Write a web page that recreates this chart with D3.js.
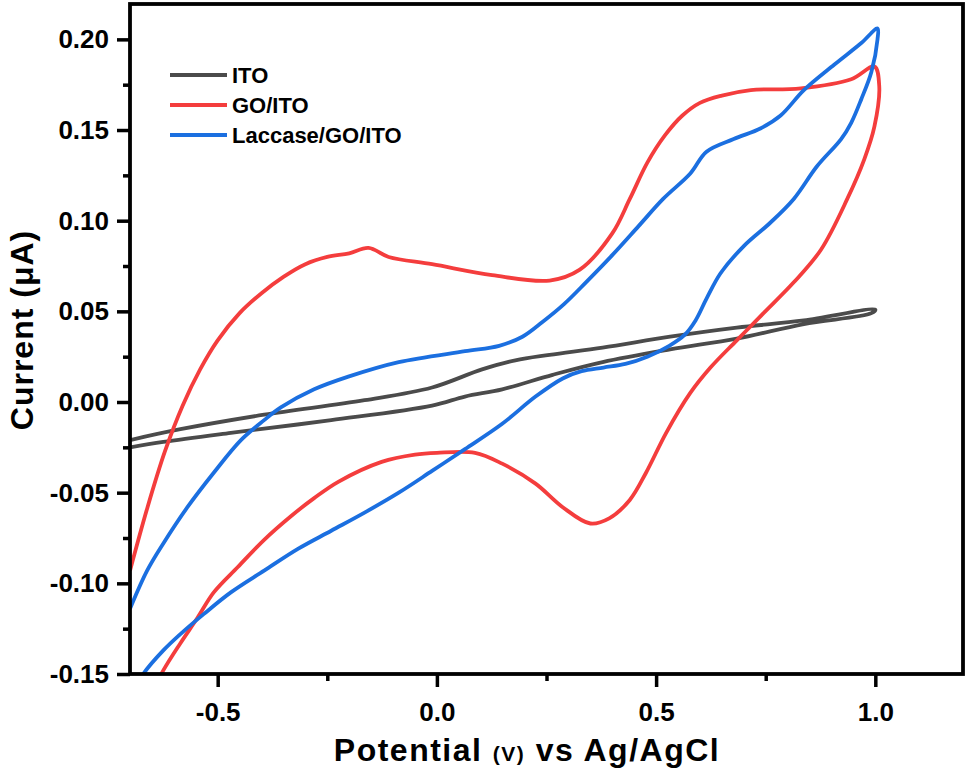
<!DOCTYPE html>
<html>
<head>
<meta charset="utf-8">
<script src="https://cdn.jsdelivr.net/npm/d3@7/dist/d3.min.js"></script>
<style>
  body { margin: 0; background: #fff; }
  svg text { font-family: Arial, "Liberation Sans", sans-serif; font-weight: bold; fill: #000; }
</style>
</head>
<body>
<div id="chart"></div>
<script>
var width = 969;
var height = 770;
var margin = {top: 4, right: 6, bottom: 96, left: 130};

// values, potential (V) and current (uA)
var seriesNames = ["ITO", "GO/ITO", "Laccase/GO/ITO"];
var seriesColors = ["#4b4b4b", "#f43d3d", "#1b6fe0"];

var potentialITO = [-0.70, -0.585, -0.394, -0.165, -0.011, 0.103, 0.179, 0.257, 0.378, 0.532, 0.684, 0.837, 1.0,
  0.991, 0.837, 0.684, 0.532, 0.378, 0.264, 0.149, 0.064, -0.011, -0.241, -0.47, -0.624, -0.70];
var currentITO = [-0.021, -0.015, -0.007, 0.001, 0.008, 0.018, 0.023, 0.026, 0.030, 0.036, 0.041, 0.045, 0.051,
  0.049, 0.043, 0.035, 0.029, 0.022, 0.015, 0.007, 0.003, -0.002, -0.010, -0.017, -0.022, -0.025];

var potentialGO = [-0.70, -0.66, -0.62, -0.58, -0.54, -0.50, -0.45, -0.40, -0.35, -0.30, -0.25, -0.20, -0.156,
  -0.110, -0.011, 0.126, 0.257, 0.326, 0.40, 0.44, 0.48, 0.52, 0.56, 0.60, 0.65, 0.716, 0.83, 0.945, 0.998,
  1.009, 0.998, 0.975, 0.936, 0.876, 0.814, 0.745, 0.684, 0.624, 0.578, 0.523, 0.477, 0.44, 0.394, 0.35,
  0.287, 0.225, 0.149, 0.087, 0.0, -0.05, -0.126, -0.225, -0.28, -0.333, -0.394, -0.454, -0.509, -0.546,
  -0.585, -0.624, -0.66, -0.70];
var currentGO = [-0.093, -0.058, -0.027, -0.002, 0.018, 0.034, 0.049, 0.060, 0.069, 0.076, 0.080, 0.082, 0.085,
  0.080, 0.076, 0.070, 0.067, 0.073, 0.093, 0.112, 0.132, 0.147, 0.158, 0.165, 0.169, 0.172, 0.173, 0.178, 0.185,
  0.174, 0.152, 0.134, 0.112, 0.084, 0.066, 0.049, 0.034, 0.019, 0.005, -0.017, -0.039, -0.054, -0.064, -0.067,
  -0.058, -0.045, -0.034, -0.028, -0.028, -0.029, -0.033, -0.044, -0.053, -0.063, -0.076, -0.091, -0.105, -0.119,
  -0.133, -0.148, -0.165, -0.185];

var potentialLac = [-0.70, -0.661, -0.624, -0.569, -0.509, -0.447, -0.394, -0.356, -0.28, -0.202, -0.087, 0.064,
  0.142, 0.195, 0.24, 0.29, 0.34, 0.40, 0.46, 0.516, 0.578, 0.615, 0.677, 0.739, 0.784, 0.837, 0.906,
  0.968, 1.005, 1.005, 0.991, 0.968, 0.945, 0.922, 0.867, 0.814, 0.761, 0.70, 0.647, 0.615, 0.59, 0.565,
  0.53, 0.48, 0.43, 0.38, 0.33, 0.287, 0.225, 0.149, 0.064, -0.011, -0.087, -0.165, -0.241, -0.317, -0.394,
  -0.47, -0.532, -0.585, -0.624, -0.67, -0.70];
var currentLac = [-0.114, -0.093, -0.078, -0.058, -0.039, -0.021, -0.010, -0.003, 0.007, 0.014, 0.022, 0.028,
  0.031, 0.036, 0.044, 0.054, 0.066, 0.081, 0.097, 0.112, 0.126, 0.138, 0.145, 0.151, 0.158, 0.172, 0.186,
  0.198, 0.206, 0.200, 0.182, 0.167, 0.154, 0.145, 0.130, 0.112, 0.099, 0.086, 0.071, 0.057, 0.045, 0.037,
  0.031, 0.025, 0.021, 0.019, 0.017, 0.013, 0.003, -0.012, -0.026, -0.038, -0.050, -0.061, -0.071, -0.081, -0.093,
  -0.105, -0.117, -0.128, -0.137, -0.150, -0.162];

var xTicks = [-0.5, 0.0, 0.5, 1.0];
var xTickLabels = ["-0.5", "0.0", "0.5", "1.0"];
var xMinorTicks = [-0.25, 0.25, 0.75];
var yTicks = [-0.15, -0.10, -0.05, 0.00, 0.05, 0.10, 0.15, 0.20];
var yTickLabels = ["-0.15", "-0.10", "-0.05", "0.00", "0.05", "0.10", "0.15", "0.20"];
var yMinorTicks = [-0.125, -0.075, -0.025, 0.025, 0.075, 0.125, 0.175];

var svg = d3.select("#chart").append("svg")
  .attr("width", width)
  .attr("height", height);

var xScale = d3.scaleLinear()
  .domain([-0.7, 1.2])
  .range([margin.left, width - margin.right]);
var yScale = d3.scaleLinear()
  .domain([-0.15, 0.2195])
  .range([height - margin.bottom, margin.top]);

svg.append("clipPath")
  .attr("id", "plot-clip")
  .append("rect")
  .attr("x", margin.left)
  .attr("y", margin.top)
  .attr("width", width - margin.left - margin.right)
  .attr("height", height - margin.top - margin.bottom);

var line = d3.line()
  .x(function(d) { return xScale(d[0]); })
  .y(function(d) { return yScale(d[1]); })
  .curve(d3.curveCatmullRom.alpha(0.5));

var series = [
  d3.zip(potentialITO, currentITO),
  d3.zip(potentialGO, currentGO),
  d3.zip(potentialLac, currentLac)
];

var curves = svg.append("g").attr("clip-path", "url(#plot-clip)");
series.forEach(function(pts, i) {
  curves.append("path")
    .datum(pts)
    .attr("fill", "none")
    .attr("stroke", seriesColors[i])
    .attr("stroke-width", 3.8)
    .attr("stroke-linejoin", "round")
    .attr("d", line);
});

// axes
var xAxis = d3.axisBottom(xScale)
  .tickValues(xTicks)
  .tickFormat(function(d, i) { return xTickLabels[i]; })
  .tickSize(13)
  .tickPadding(16);
var xMinor = d3.axisBottom(xScale)
  .tickValues(xMinorTicks)
  .tickFormat("")
  .tickSize(7);
var yAxis = d3.axisLeft(yScale)
  .tickValues(yTicks)
  .tickFormat(function(d, i) { return yTickLabels[i]; })
  .tickSize(13)
  .tickPadding(8);
var yMinor = d3.axisLeft(yScale)
  .tickValues(yMinorTicks)
  .tickFormat("")
  .tickSize(7);

function styleAxis(g) {
  g.select(".domain").remove();
  g.selectAll(".tick line").attr("stroke", "#000").attr("stroke-width", 3.5);
  g.selectAll(".tick text")
    .style("font-size", "26px")
    .style("font-weight", "bold")
    .attr("fill", "#000");
}

svg.append("g")
  .attr("transform", "translate(0," + (height - margin.bottom) + ")")
  .call(xAxis).call(styleAxis);
svg.append("g")
  .attr("transform", "translate(0," + (height - margin.bottom) + ")")
  .call(xMinor).call(styleAxis);
svg.append("g")
  .attr("transform", "translate(" + margin.left + ",0)")
  .call(yAxis).call(styleAxis);
svg.append("g")
  .attr("transform", "translate(" + margin.left + ",0)")
  .call(yMinor).call(styleAxis);

// frame
svg.append("rect")
  .attr("x", margin.left)
  .attr("y", margin.top)
  .attr("width", width - margin.left - margin.right)
  .attr("height", height - margin.top - margin.bottom)
  .attr("fill", "none")
  .attr("stroke", "#000")
  .attr("stroke-width", 3.8);

// axis titles
var xLabel = svg.append("text")
  .attr("x", 527)
  .attr("y", 761)
  .attr("text-anchor", "middle")
  .style("font-size", "32px")
  .style("letter-spacing", "1.5px");
xLabel.append("tspan").text("Potential ");
xLabel.append("tspan").style("font-size", "21px").text("(V)");
xLabel.append("tspan").text(" vs Ag/AgCl");

svg.append("text")
  .attr("transform", "translate(33,330) rotate(-90)")
  .attr("text-anchor", "middle")
  .style("font-size", "32px")
  .style("letter-spacing", "1px")
  .text("Current (\u03bcA)");

// legend
var legend = svg.append("g").attr("transform", "translate(170,75)");
seriesNames.forEach(function(name, i) {
  var row = legend.append("g").attr("transform", "translate(0," + (i * 30) + ")");
  row.append("line")
    .attr("x1", 0).attr("x2", 57)
    .attr("y1", 0).attr("y2", 0)
    .attr("stroke", seriesColors[i])
    .attr("stroke-width", 4);
  row.append("text")
    .attr("x", 62)
    .attr("y", 8)
    .style("font-size", "22px")
    .text(name);
});
</script>
</body>
</html>
